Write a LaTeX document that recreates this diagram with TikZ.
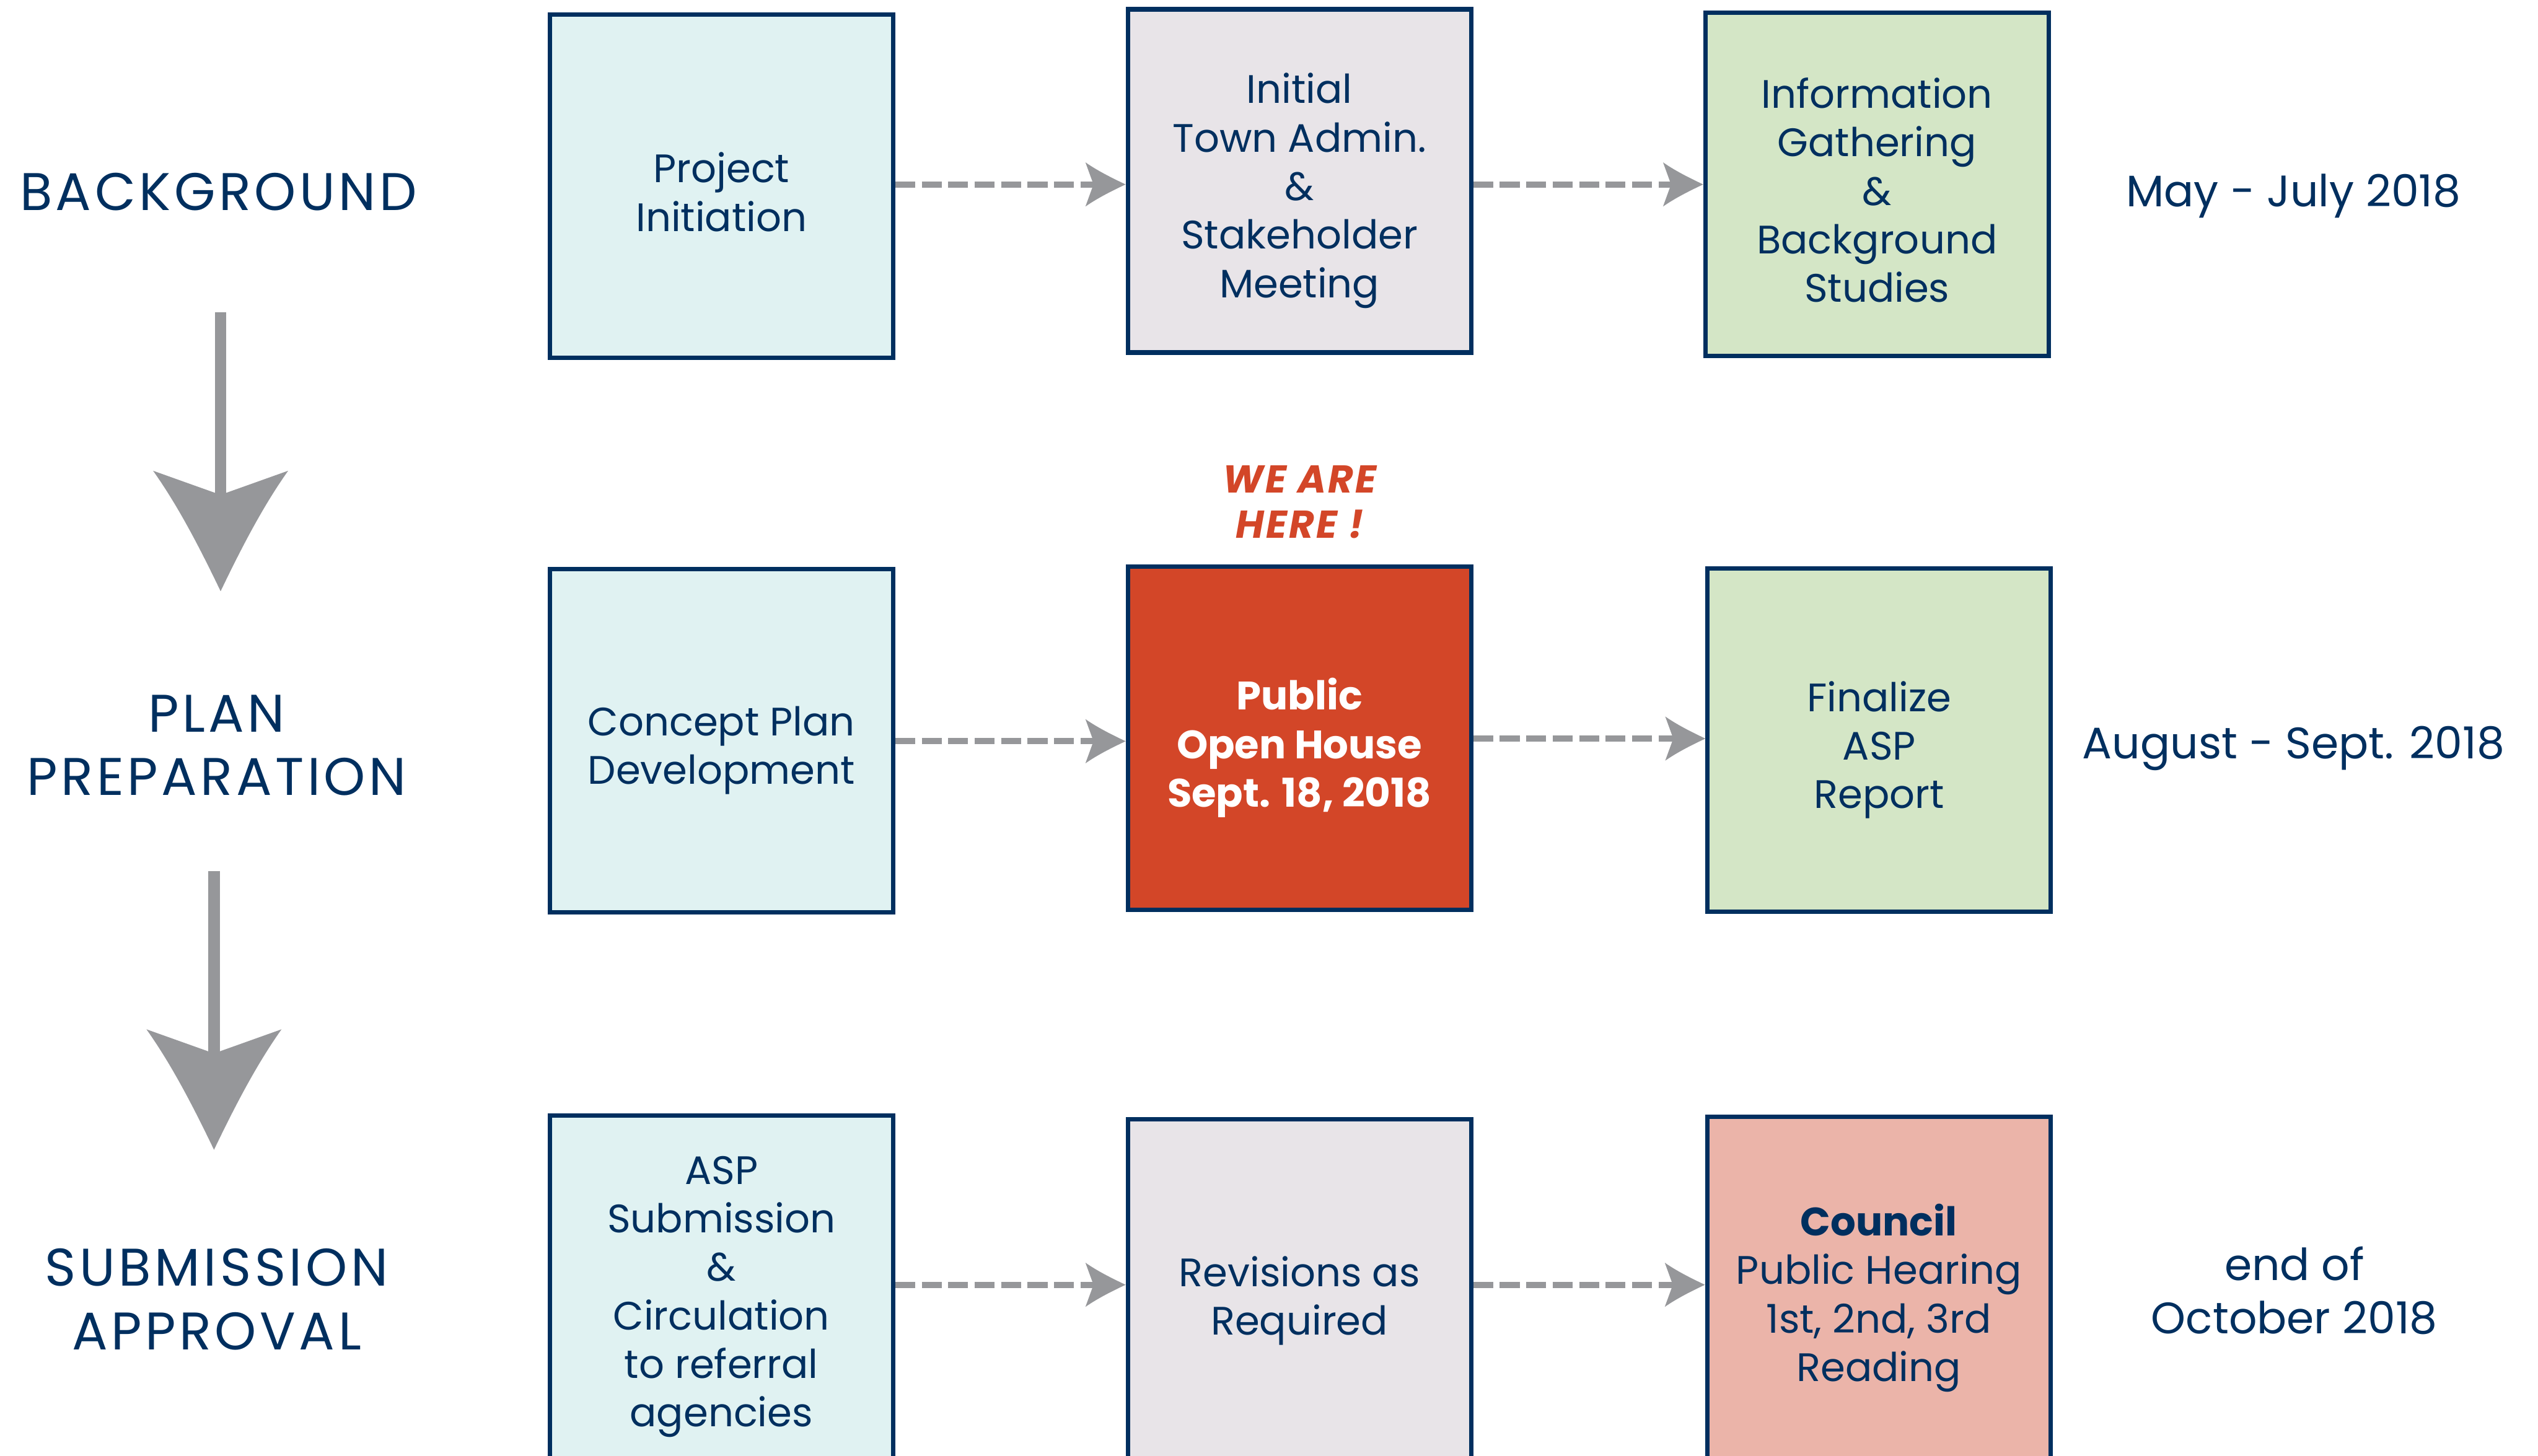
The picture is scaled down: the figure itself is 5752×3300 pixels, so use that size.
\documentclass[tikz,border=0pt]{standalone}
\usepackage{fontspec}
\setmainfont{Poppins}
\usetikzlibrary{arrows.meta}

\definecolor{navy}{RGB}{0,47,95}
\definecolor{cyanfill}{RGB}{224,242,242}
\definecolor{lavfill}{RGB}{232,228,232}
\definecolor{greenfill}{RGB}{212,230,198}
\definecolor{redfill}{RGB}{211,70,40}
\definecolor{pinkfill}{RGB}{235,180,169}
\definecolor{arrowgray}{RGB}{150,151,154}

% arrow head with concave flanks and a notched back
\pgfdeclarearrow{
  name = Swoop,
  defaults = {length = 12pt, width = 10pt},
  parameters = {\the\pgfarrowlength,\the\pgfarrowwidth},
  setup code = {
    \pgfarrowssettipend{0pt}
    \pgfarrowssetbackend{-\pgfarrowlength}
    \pgfarrowssetlineend{-0.7\pgfarrowlength}
    \pgfarrowssavethe\pgfarrowlength
    \pgfarrowssavethe\pgfarrowwidth
  },
  drawing code = {
    \pgfpathmoveto{\pgfqpoint{0pt}{0pt}}
    \pgfpathcurveto{\pgfqpoint{-0.35\pgfarrowlength}{0.15\pgfarrowwidth}}{\pgfqpoint{-0.7\pgfarrowlength}{0.31\pgfarrowwidth}}{\pgfqpoint{-\pgfarrowlength}{0.5\pgfarrowwidth}}
    \pgfpathlineto{\pgfqpoint{-0.8\pgfarrowlength}{0pt}}
    \pgfpathlineto{\pgfqpoint{-\pgfarrowlength}{-0.5\pgfarrowwidth}}
    \pgfpathcurveto{\pgfqpoint{-0.7\pgfarrowlength}{-0.31\pgfarrowwidth}}{\pgfqpoint{-0.35\pgfarrowlength}{-0.15\pgfarrowwidth}}{\pgfqpoint{0pt}{0pt}}
    \pgfpathclose
    \pgfusepathqfill
  }
}

\tikzset{
  stage/.style={font=\fontsize{30}{36}\selectfont\addfontfeature{LetterSpace=6.5},
    text=navy, align=center, inner sep=0pt},
  datelabel/.style={font=\fontsize{25}{30.25}\selectfont, text=navy, align=center, inner sep=0pt},
  box/.style={draw=navy, line width=2.5pt, minimum width=194.5pt, minimum height=194.5pt,
    inner sep=0pt},
  boxtext/.style={align=center, text=navy, inner sep=0pt, font=\fontsize{22.5}{27.5}\selectfont},
  flow/.style={draw=arrowgray, line width=3.6pt, dash pattern=on 11.25pt off 3.75pt,
    -{Swoop[length=22.75pt,width=25pt]}},
  down/.style={draw=arrowgray, line width=6.5pt, -{Swoop[length=68.25pt,width=76.5pt]}},
  here/.style={font=\fontsize{22}{25.75}\selectfont\bfseries\itshape\addfontfeature{LetterSpace=5},
    text=redfill, align=center, inner sep=0pt}
}

\begin{document}
\begin{tikzpicture}[x=0.25pt,y=-0.25pt]
\useasboundingbox (0,0) rectangle (5752,3300);
\fill[white] (0,0) rectangle (5752,3300);
\clip (0,0) rectangle (5752,3300);

% phase labels
\node[stage] (bg) at (495,435) {BACKGROUND};
\node[stage] (pp) at (491,1689) {PLAN\\PREPARATION};
\node[stage] (sa) at (491,2945) {SUBMISSION\\APPROVAL};

% phase arrows
\coordinate (d1s) at (500,708);
\coordinate (d1e) at (500,1340);
\coordinate (d2s) at (485,1974);
\coordinate (d2e) at (485,2606);
\draw[down] (d1s) -- (d1e);
\draw[down] (d2s) -- (d2e);

% step boxes
\node[box, fill=cyanfill] (pi) at (1635,422) {};
\node[box, fill=lavfill] (ta) at (2945,410) {};
\node[box, fill=greenfill] (ig) at (4254,418) {};
\node[box, fill=cyanfill] (cp) at (1635,1679) {};
\node[box, fill=redfill] (oh) at (2945,1673) {};
\node[box, fill=greenfill] (fa) at (4259,1678) {};
\node[box, fill=cyanfill] (as) at (1635,2917) {};
\node[box, fill=lavfill] (rv) at (2945,2926) {};
\node[box, fill=pinkfill] (co) at (4258,2920) {};

% step texts
\node[boxtext] (pi-t) at ([yshift=-3.25pt]pi.center) {Project\\Initiation};
\node[boxtext] (ta-t) at ([yshift=-5.5pt]ta.center) {Initial\\Town Admin.\\\&\\Stakeholder\\Meeting};
\node[boxtext] (ig-t) at ([yshift=-3.25pt]ig.center) {Information\\Gathering\\\&\\Background\\Studies};
\node[boxtext] (cp-t) at ([yshift=-5.5pt]cp.center) {Concept Plan\\Development};
\node[boxtext, text=white, font=\fontsize{22.5}{27.5}\selectfont\bfseries] (oh-t) at ([yshift=-5.5pt]oh.center) {Public\\Open House\\Sept. 18, 2018};
\node[boxtext] (fa-t) at ([yshift=-5.5pt]fa.center) {Finalize\\ASP\\Report};
\node[boxtext] (as-t) at ([yshift=-5.5pt]as.center) {ASP\\Submission\\\&\\Circulation\\to referral\\agencies};
\node[boxtext] (rv-t) at ([yshift=-5.5pt]rv.center) {Revisions as\\Required};
\node[boxtext] (co-t) at ([yshift=-5.5pt]co.center) {\textbf{Council}\\Public Hearing\\1st, 2nd, 3rd\\Reading};

\node[here] (wh) at (2946,1138) {WE ARE\\HERE !};

% connectors between steps
\coordinate (r1) at (0,418);
\coordinate (r2a) at (0,1680);
\coordinate (r2b) at (0,1674);
\coordinate (r3) at (0,2912);
\draw[flow] (pi.east |- r1) -- (ta.west |- r1);
\draw[flow] (ta.east |- r1) -- (ig.west |- r1);
\draw[flow] (cp.east |- r2a) -- (oh.west |- r2a);
\draw[flow] (oh.east |- r2b) -- (fa.west |- r2b);
\draw[flow] (as.east |- r3) -- (rv.west |- r3);
\draw[flow] (rv.east |- r3) -- (co.west |- r3);

% time frames
\node[datelabel, anchor=base] (t1) at (5198,468) {May - July 2018};
\node[datelabel, anchor=base] (t2) at (5198,1719) {August - Sept. 2018};
\node[datelabel] (t3) at (5200,2925) {end of\\October 2018};
\end{tikzpicture}
\end{document}
